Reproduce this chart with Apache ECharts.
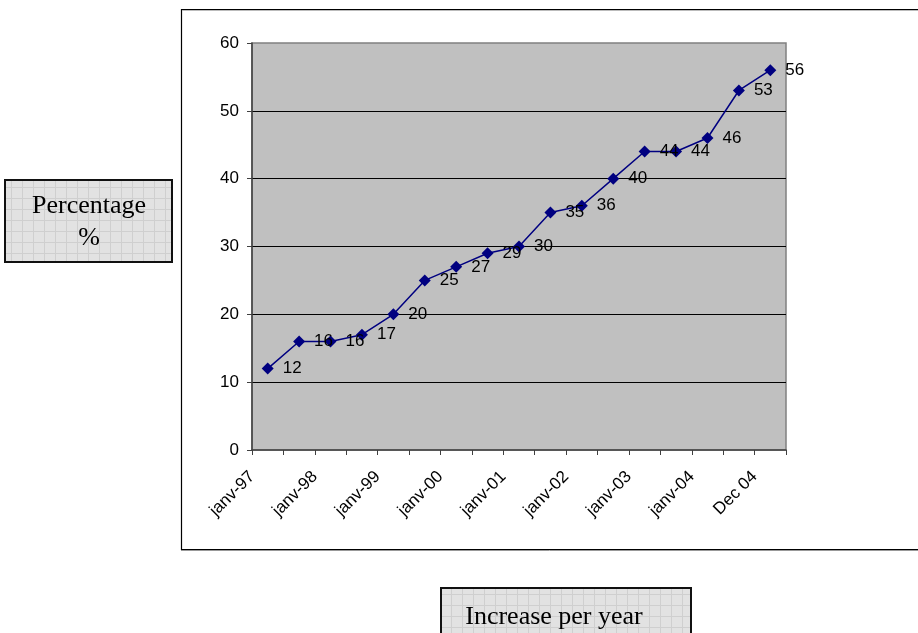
<!DOCTYPE html>
<html>
<head>
<meta charset="utf-8">
<script src="https://cdn.jsdelivr.net/npm/echarts@6/dist/echarts.min.js"></script>
<style>
  html, body { margin: 0; padding: 0; background: #fff; }
  #chart { width: 918px; height: 633px; }
</style>
</head>
<body>
<div id="chart"></div>
<script>
// Half-yearly percentage readings, Jan 1997 to Dec 2004
const values = [12, 16, 16, 17, 20, 25, 27, 29, 30, 35, 36, 40, 44, 44, 46, 53, 56];

// Labels placed on the period boundaries (one more boundary than periods)
const tickLabels = [
  'janv-97', '', 'janv-98', '', 'janv-99', '', 'janv-00', '', 'janv-01', '',
  'janv-02', '', 'janv-03', '', 'janv-04', '', 'Dec 04', ''
];

const yTicks = { min: 0, max: 60, interval: 10 };

const yTitle = ['Percentage', '%'];
const xTitle = 'Increase per year';

// Light grey squared paper fill for the title boxes
function makePattern() {
  const c = document.createElement('canvas');
  c.width = 11; c.height = 11;
  const g = c.getContext('2d');
  g.fillStyle = '#e2e2e2';
  g.fillRect(0, 0, 11, 11);
  g.fillStyle = '#cfcfcf';
  g.fillRect(0, 0, 11, 1);
  g.fillRect(0, 0, 1, 11);
  return { image: c, repeat: 'repeat' };
}
const paper = makePattern();

const chart = echarts.init(document.getElementById('chart'), null, { renderer: 'canvas' });

const sans = 'Liberation Sans, Arial, sans-serif';
const serif = 'Liberation Serif, Times New Roman, serif';

chart.setOption({
  backgroundColor: '#ffffff',
  animation: false,
  grid: {
    left: 252, top: 43, right: 132, bottom: 183,
    show: true, backgroundColor: '#c0c0c0', borderColor: '#808080', borderWidth: 1.5
  },
  xAxis: [
    {
      type: 'category',
      data: values.map((_, i) => String(i)),
      boundaryGap: true,
      axisLine: { lineStyle: { color: '#404040', width: 1.5 } },
      axisTick: { show: true, interval: 0, length: 5, lineStyle: { color: '#404040', width: 1 } },
      axisLabel: { show: false },
      splitLine: { show: false }
    },
    {
      type: 'category',
      data: tickLabels,
      boundaryGap: false,
      position: 'bottom',
      axisLine: { show: false },
      axisTick: { show: false },
      axisLabel: {
        interval: 0, rotate: 45, margin: 24,
        fontFamily: sans, fontSize: 17, color: '#000'
      },
      splitLine: { show: false }
    }
  ],
  yAxis: {
    type: 'value',
    min: yTicks.min, max: yTicks.max, interval: yTicks.interval,
    axisLine: { show: true, lineStyle: { color: '#404040', width: 1.5 } },
    axisTick: { show: true, length: 5, lineStyle: { color: '#404040', width: 1 } },
    axisLabel: { margin: 13, fontFamily: sans, fontSize: 17, color: '#000' },
    splitLine: { show: true, showMinLine: false, showMaxLine: false, lineStyle: { color: '#000', width: 1 } }
  },
  series: [{
    type: 'line',
    xAxisIndex: 0,
    data: values,
    symbol: 'diamond',
    symbolSize: 12,
    lineStyle: { color: '#000080', width: 1.5 },
    itemStyle: { color: '#000080' },
    label: {
      show: true, position: 'right', distance: 9,
      fontFamily: sans, fontSize: 17, color: '#000'
    },
    z: 3
  }],
  graphic: [
    // chart frame (its right side runs past the page edge)
    { type: 'polyline', shape: { points: [[918, 9.5], [181.5, 9.5], [181.5, 549.5], [918, 549.5]] },
      style: { stroke: '#000', lineWidth: 1.2, fill: null } },
    { type: 'line', shape: { x1: 182, y1: 10.5, x2: 918, y2: 10.5 }, style: { stroke: '#bbbbbb', lineWidth: 1 } },
    { type: 'line', shape: { x1: 181, y1: 550.5, x2: 918, y2: 550.5 }, style: { stroke: '#999999', lineWidth: 1 } },
    // y-axis title box
    { type: 'rect', shape: { x: 5, y: 180, width: 167, height: 82 },
      style: { fill: paper, stroke: '#111', lineWidth: 2 } },
    { type: 'text', x: 89, y: 206,
      style: { text: yTitle[0], font: '26px ' + serif, fill: '#000', align: 'center', verticalAlign: 'middle' } },
    { type: 'text', x: 89, y: 238,
      style: { text: yTitle[1], font: '26px ' + serif, fill: '#000', align: 'center', verticalAlign: 'middle' } },
    // x-axis title box
    { type: 'rect', shape: { x: 441, y: 588, width: 250, height: 70 },
      style: { fill: paper, stroke: '#111', lineWidth: 2 } },
    { type: 'text', x: 554, y: 617,
      style: { text: xTitle, font: '26px ' + serif, fill: '#000', align: 'center', verticalAlign: 'middle' } }
  ]
});
</script>
</body>
</html>
